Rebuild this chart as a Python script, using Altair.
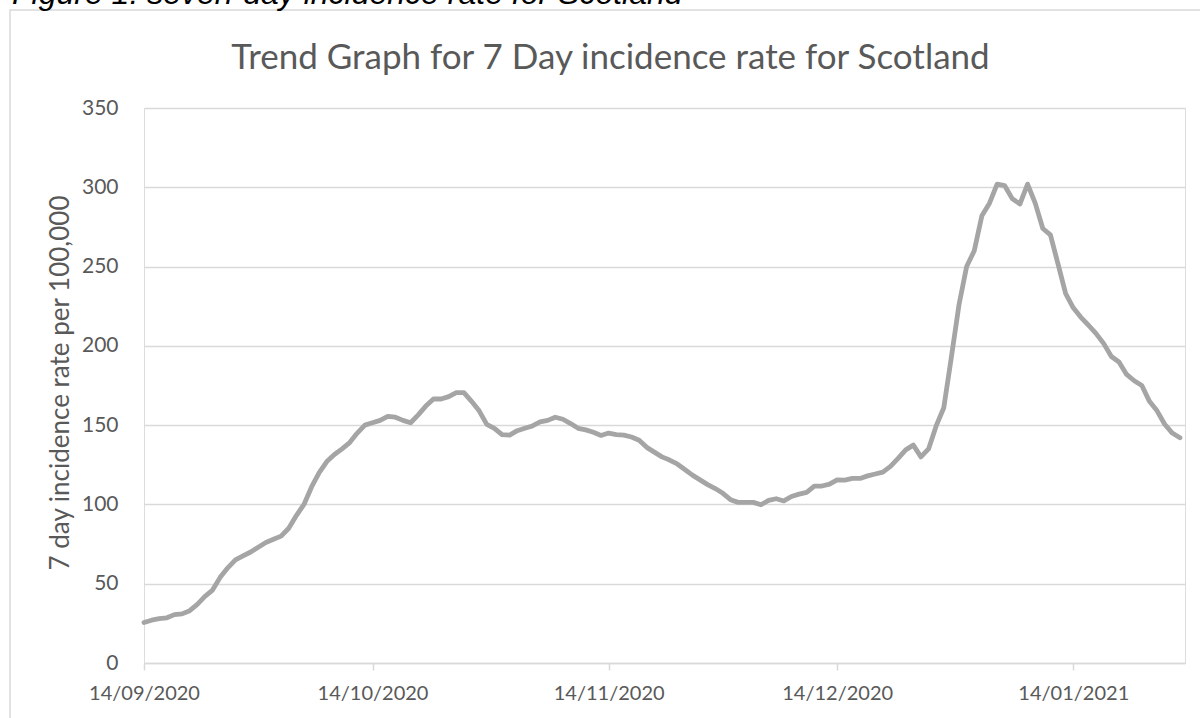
import altair as alt
import pandas as pd

# Seven-day incidence rate per 100,000 for Scotland, one value per day from 14/09/2020
start_date = "2020-09-14"
rate = [
    25.5, 27, 28, 28.5, 30.5, 31, 33, 37, 42, 46,
    54, 60, 65, 67.5, 70, 73, 76, 78, 80, 85,
    93, 100, 111, 120, 127, 131.5, 135, 139, 145, 150,
    151.5, 153, 155.5, 155, 153, 151.5, 156.5, 162, 166.5, 166.5,
    168, 170.5, 170.5, 165, 159, 150.5, 148, 144, 143.7, 146.5,
    148, 149.5, 152, 153, 155, 153.7, 151, 148, 147, 145.5,
    143.5, 145, 144, 143.7, 142.5, 140.5, 136, 133, 130, 128,
    125.5, 122, 118.5, 115.5, 112.5, 110, 107, 103, 101.3, 101.3,
    101.3, 99.8, 102.5, 103.6, 102.2, 105, 106.5, 107.6, 111.5, 111.6,
    112.8, 115.5, 115.3, 116.4, 116.4, 118, 119.2, 120.4, 124, 129,
    134.4, 137.4, 130, 135, 149.5, 161, 193, 226, 250, 260,
    282, 290, 302, 301, 292.7, 289.5, 302, 290, 274, 270,
    251.5, 233, 224, 218, 213, 207.7, 201.4, 193.3, 189.8, 182,
    178, 175, 165, 159, 150.6, 145, 142,
]
dates = pd.date_range(start_date, periods=len(rate), freq="D")
df = pd.DataFrame({"date": dates.strftime("%Y-%m-%d"), "rate": rate})

tick_dates = [(2020, 9, 14), (2020, 10, 14), (2020, 11, 14), (2020, 12, 14), (2021, 1, 14)]
y_ticks = [0, 50, 100, 150, 200, 250, 300, 350]

chart_title = "Trend Graph for 7 Day incidence rate for Scotland"
caption_text = "Figure 1: seven-day incidence rate for Scotland"

TEXT = "#595959"
GRID = "#d9d9d9"
LINE = "#a5a5a5"
FONT = "Lato"

W, H = 1041, 555
LEFT, TOP = 144, 108

x_enc = alt.X(
    "date:T",
    scale=alt.Scale(
        type="utc",
        domain=[alt.DateTime(year=2020, month=9, date=14, utc=True),
                alt.DateTime(year=2021, month=1, date=28, hours=16, utc=True)],
        nice=False,
    ),
    axis=alt.Axis(
        title=None,
        values=[alt.DateTime(year=y, month=m, date=d, utc=True) for y, m, d in tick_dates],
        labelExpr="utcFormat(datum.value, '%d/%m/%Y')",
        grid=False,
        domainColor=GRID,
        domainWidth=1.5,
        tickColor=GRID,
        tickWidth=1.5,
        tickSize=7,
        labelPadding=13,
        labelColor=TEXT,
        labelFont=FONT,
        labelFontSize=20,
        labelAlign="center",
        labelBaseline="top",
    ),
)

y_enc = alt.Y(
    "rate:Q",
    scale=alt.Scale(domain=[0, 350], nice=False),
    axis=alt.Axis(
        title="7 day incidence rate per 100,000",
        values=y_ticks,
        domain=False,
        ticks=False,
        tickSize=0,
        labelPadding=26,
        labelColor=TEXT,
        labelFont=FONT,
        labelFontSize=21,
        gridColor=GRID,
        gridWidth=1.5,
        titleColor=TEXT,
        titleFont=FONT,
        titleFontSize=26,
        titleFontWeight="normal",
        titleAngle=270,
        titleX=-84,
        titleY=H / 2 - 3,
        titleAlign="center",
        titleBaseline="middle",
    ),
)

line = alt.Chart(df).mark_line(
    color=LINE, strokeWidth=4.8, strokeJoin="round", strokeCap="round"
).encode(x=x_enc, y=y_enc)

# Outer frame of the chart area
frame_df = pd.DataFrame({"k": [0]})
frame = alt.Chart(frame_df).mark_rect(
    fill="white", fillOpacity=0, stroke=GRID, strokeWidth=1.5
).encode(
    x=alt.value(10 - LEFT), x2=alt.value(1210 - LEFT),
    y=alt.value(10 - TOP), y2=alt.value(740 - TOP),
)

# Chart heading inside the frame
title_df = pd.DataFrame({"label": [chart_title]})
heading = alt.Chart(title_df).mark_text(
    font=FONT, fontSize=35, color=TEXT, align="center", baseline="alphabetic",
).encode(x=alt.value(610.5 - LEFT), y=alt.value(69 - TOP), text="label:N")

# Figure caption sitting above the chart area
caption_df = pd.DataFrame({"label": [caption_text]})
caption = alt.Chart(caption_df).mark_text(
    font="Liberation Sans", fontStyle="italic", fontSize=32, color="#000000",
    align="left", baseline="alphabetic",
).encode(x=alt.value(12 - LEFT), y=alt.value(4 - TOP), text="label:N")

chart = alt.layer(frame, line, heading, caption).properties(
    width=W,
    height=H,
    padding={"left": LEFT, "top": TOP, "right": 15, "bottom": 55},
    autosize=alt.AutoSizeParams(type="none"),
).configure_view(stroke=None).configure(background="white")

chart.save("out.html", embed_options={"renderer": "svg", "actions": False})
